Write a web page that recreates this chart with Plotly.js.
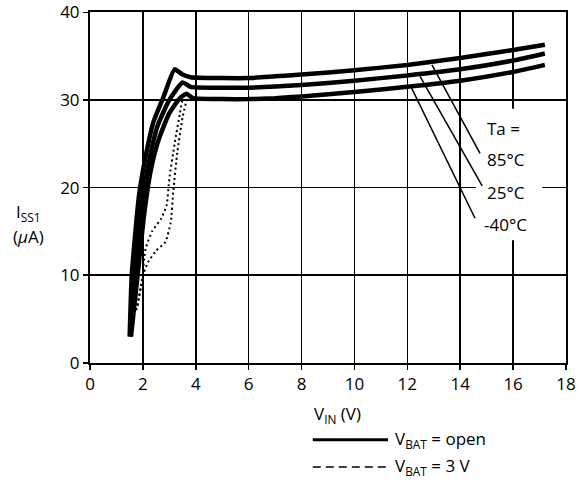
<!DOCTYPE html>
<html><head><meta charset="utf-8">
<script src="https://cdn.plot.ly/plotly-3.0.1.min.js"></script>
<style>html,body{margin:0;padding:0;background:#fff}</style>
</head><body><div id="chart" style="width:587px;height:485px"></div>
<script>
// V_BAT = open (solid)
const x85 = [1.5, 1.58, 1.85, 2.1, 2.4, 2.8, 3.2, 3.5, 3.8, 5, 6, 7, 8, 10, 12, 14, 16, 17.2];
const y85 = [3, 10, 19, 23.5, 27.5, 30.5, 33.5, 32.9, 32.6, 32.5, 32.5, 32.7, 32.9, 33.4, 34.0, 34.8, 35.7, 36.3];
const x25 = [1.52, 1.7, 1.95, 2.2, 2.55, 3.0, 3.5, 3.8, 5, 6, 8, 10, 12, 14, 16, 17.2];
const y25 = [3, 10, 18, 22.5, 27, 30, 32.0, 31.5, 31.4, 31.4, 31.7, 32.2, 32.8, 33.5, 34.5, 35.3];
const xm40 = [1.55, 1.8, 2.05, 2.3, 2.6, 3.0, 3.4, 3.65, 3.9, 5, 6, 7, 8, 10, 12, 14, 16, 17.2];
const ym40 = [3, 10, 17, 22, 25.5, 28.5, 30.2, 30.7, 30.2, 30.1, 30.1, 30.2, 30.4, 30.9, 31.5, 32.2, 33.2, 34.0];
// V_BAT = 3 V (dotted)
const xdA = [1.75, 1.95, 2.1, 2.35, 2.7, 2.9, 3.0, 3.2, 3.4, 3.5];
const ydA = [6, 9, 13, 15, 16.5, 18, 21, 25, 28.5, 30.2];
const xdB = [1.8, 2.0, 2.2, 2.5, 2.85, 3.05, 3.15, 3.3, 3.5, 3.67];
const ydB = [6.5, 10, 11.5, 12.8, 13.8, 16, 19.6, 24, 28, 30.2];
const xTicks = [0, 2, 4, 6, 8, 10, 12, 14, 16, 18];
const yTicks = [0, 10, 20, 30, 40];
const tempLabels = ['Ta =', '85°C', '25°C', '-40°C'];

const solid = {color: '#000', width: 4.5};
const dotted = {color: '#000', width: 2, dash: '2px,3px'};
const traces = [
  {x: x85, y: y85, mode: 'lines', line: Object.assign({}, solid)},
  {x: x25, y: y25, mode: 'lines', line: Object.assign({}, solid)},
  {x: xm40, y: ym40, mode: 'lines', line: Object.assign({}, solid)},
  {x: xdA, y: ydA, mode: 'lines', line: Object.assign({}, dotted)},
  {x: xdB, y: ydB, mode: 'lines', line: Object.assign({}, dotted)}
];
traces.forEach(t => { t.line.shape = 'spline'; t.line.smoothing = 0.5; t.showlegend = false; t.hoverinfo = 'skip'; t.cliponaxis = false; });

const font = {family: '"Open Sans", "Noto Sans", sans-serif', size: 17, color: '#000'};
const axBase = {
  showgrid: true, gridcolor: '#000', gridwidth: 1.6,
  showline: true, linecolor: '#000', linewidth: 2, mirror: true,
  ticks: 'outside', ticklen: 5, tickwidth: 1.6, tickcolor: '#000',
  zeroline: false, tickfont: font, fixedrange: true, automargin: false
};
const layout = {
  width: 587, height: 485,
  margin: {l: 90, r: 21, t: 12, b: 122},
  paper_bgcolor: '#fff', plot_bgcolor: '#fff',
  showlegend: false,
  font: font,
  xaxis: Object.assign({}, axBase, {range: [0, 18], tickvals: xTicks, ticktext: xTicks.map(String)}),
  yaxis: Object.assign({}, axBase, {range: [-0.02, 40.04], tickvals: yTicks, ticktext: yTicks.map(String)}),
  shapes: [
    {type: 'rect', xref: 'x', yref: 'y', x0: 14.6, x1: 17.1, y0: 14, y1: 29, fillcolor: '#fff', line: {width: 0}, layer: 'between'},
    {type: 'line', xref: 'x', yref: 'y', x0: 12.93, y0: 34.0, x1: 14.75, y1: 23.9, line: {color: '#000', width: 1.5}},
    {type: 'line', xref: 'x', yref: 'y', x0: 12.48, y0: 32.7, x1: 14.83, y1: 20.2, line: {color: '#000', width: 1.5}},
    {type: 'line', xref: 'x', yref: 'y', x0: 12.14, y0: 31.5, x1: 14.56, y1: 16.5, line: {color: '#000', width: 1.5}},
    {type: 'line', xref: 'paper', yref: 'paper', x0: 0.468, x1: 0.626, y0: -0.219, y1: -0.219, line: {color: '#000', width: 3}},
    {type: 'line', xref: 'paper', yref: 'paper', x0: 0.468, x1: 0.626, y0: -0.296, y1: -0.296, line: {color: '#000', width: 1.5, dash: '8px,5px'}}
  ],
  annotations: [
    {xref: 'x', yref: 'y', x: 14.93, y: 26.8, text: tempLabels[0], showarrow: false, xanchor: 'left', yanchor: 'middle', font: font},
    {xref: 'x', yref: 'y', x: 14.93, y: 23.2, text: tempLabels[1], showarrow: false, xanchor: 'left', yanchor: 'middle', font: font},
    {xref: 'x', yref: 'y', x: 14.93, y: 19.4, text: tempLabels[2], showarrow: false, xanchor: 'left', yanchor: 'middle', font: font},
    {xref: 'x', yref: 'y', x: 14.83, y: 15.8, text: tempLabels[3], showarrow: false, xanchor: 'left', yanchor: 'middle', font: font},
    {xref: 'paper', yref: 'paper', x: 0.519, y: -0.148, text: 'V<sub>IN</sub> (V)', showarrow: false, xanchor: 'center', yanchor: 'middle', font: font},
    {xref: 'paper', yref: 'paper', x: -0.13, y: 0.43, text: 'I<sub>SS1</sub>', showarrow: false, xanchor: 'center', yanchor: 'middle', font: font},
    {xref: 'paper', yref: 'paper', x: -0.13, y: 0.36, text: '(<i>μ</i>A)', showarrow: false, xanchor: 'center', yanchor: 'middle', font: font},
    {xref: 'paper', yref: 'paper', x: 0.637, y: -0.219, text: 'V<sub>BAT</sub> = open', showarrow: false, xanchor: 'left', yanchor: 'middle', font: font},
    {xref: 'paper', yref: 'paper', x: 0.637, y: -0.296, text: 'V<sub>BAT</sub> = 3 V', showarrow: false, xanchor: 'left', yanchor: 'middle', font: font}
  ]
};
Plotly.newPlot('chart', traces, layout, {staticPlot: true, displayModeBar: false});
</script></body></html>
